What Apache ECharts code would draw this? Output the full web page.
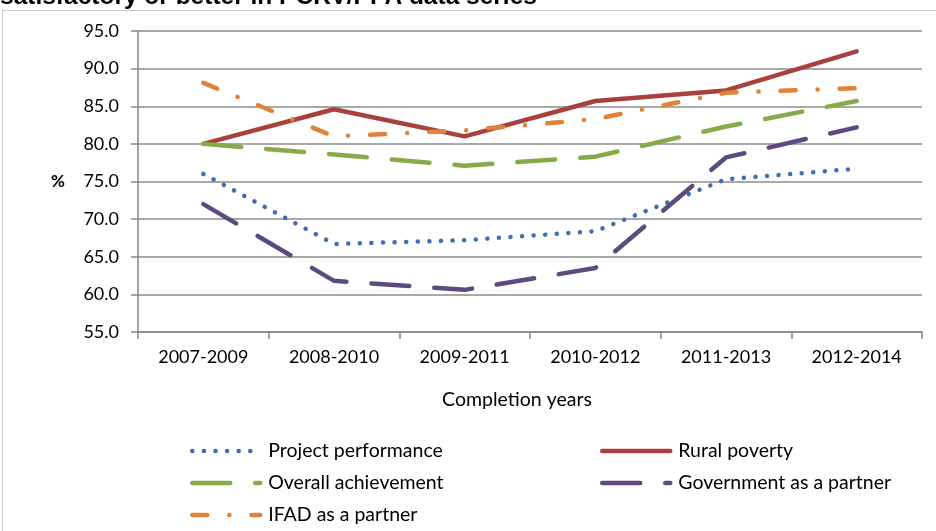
<!DOCTYPE html>
<html>
<head>
<meta charset="utf-8">
<script src="https://cdn.jsdelivr.net/npm/echarts@6/dist/echarts.min.js"></script>
<style>
  html, body { margin: 0; padding: 0; background: #fff; }
  #chart { width: 936px; height: 531px; }
</style>
</head>
<body>
<div id="chart"></div>
<script>
// values
var years = ['2007-2009', '2008-2010', '2009-2011', '2010-2012', '2011-2013', '2012-2014'];
var projectPerformance = [76.0, 66.7, 67.2, 68.4, 75.3, 76.7];
var ruralPoverty = [80.0, 84.6, 81.0, 85.7, 87.1, 92.3];
var overallAchievement = [80.0, 78.6, 77.1, 78.3, 82.3, 85.7];
var governmentPartner = [72.0, 61.8, 60.6, 63.5, 78.2, 82.2];
var ifadPartner = [88.1, 81.0, 81.8, 83.3, 86.8, 87.4];

var font = 'Lato, "Open Sans", sans-serif';

function lineSeries(name, data, color, dash) {
    return {
        name: name,
        type: 'line',
        data: data,
        symbol: 'none',
        animation: false,
        lineStyle: {
            color: color,
            width: 4.5,
            type: dash,
            cap: 'round',
            join: 'round'
        },
        itemStyle: { color: color }
    };
}

function legendColumn(left, names) {
    return {
        orient: 'vertical',
        left: left,
        top: 441,
        height: 90,
        padding: 0,
        itemWidth: 68,
        itemHeight: 14,
        itemGap: 12,
        itemStyle: { opacity: 0 },
        lineStyle: { width: 4.5, cap: 'round' },
        textStyle: { fontFamily: font, fontSize: 19.5, lineHeight: 20, color: '#000', padding: [0, 0, 0, 3] },
        data: names
    };
}

var chart = echarts.init(document.getElementById('chart'));
chart.setOption({
    animation: false,
    graphic: [
        {
            type: 'rect',
            shape: { x: 2.5, y: 10.5, width: 940, height: 540 },
            style: { fill: 'none', stroke: '#c8c8c8', lineWidth: 1 },
            silent: true
        },
        {
            type: 'text',
            x: 0,
            y: 10,
            style: {
                text: 'satisfactory or better in PCRV/PPA data series',
                font: 'bold 24.5px "Liberation Sans", Arial, sans-serif',
                fill: '#000',
                verticalAlign: 'bottom'
            }
        }
    ],
    grid: { left: 138, right: 14, top: 31, bottom: 199 },
    legend: [
        legendColumn(190, ['Project performance', 'Overall achievement', 'IFAD as a partner']),
        legendColumn(600, ['Rural poverty', 'Government as a partner'])
    ],
    xAxis: {
        type: 'category',
        data: years,
        boundaryGap: true,
        name: 'Completion years',
        nameLocation: 'middle',
        nameGap: 58,
        nameTextStyle: { fontFamily: font, fontSize: 19.5, color: '#000', padding: [0, 26, 0, 0] },
        axisLine: { lineStyle: { color: '#868686', width: 1.5 } },
        axisTick: { show: true, length: 7, lineStyle: { color: '#868686', width: 1.5 } },
        axisLabel: { fontFamily: font, fontSize: 18, color: '#000', margin: 16 },
        splitLine: { show: false }
    },
    yAxis: {
        type: 'value',
        min: 55,
        max: 95,
        interval: 5,
        name: '%',
        nameLocation: 'middle',
        nameRotate: 0,
        nameGap: 73,
        nameTextStyle: { fontFamily: font, fontSize: 17, fontWeight: 'bold', color: '#000', padding: [12, 0, 0, 0] },
        axisLine: { show: true, lineStyle: { color: '#868686', width: 1.5 } },
        axisTick: { show: true, length: 7, lineStyle: { color: '#868686', width: 1.5 } },
        axisLabel: {
            fontFamily: font, fontSize: 18, color: '#000', margin: 19,
            formatter: function (v) { return v.toFixed(1); }
        },
        splitLine: { show: true, lineStyle: { color: '#8c8c8c', width: 1.5 } }
    },
    series: [
        lineSeries('Project performance', projectPerformance, '#3f6fb0', [0.1, 11.5]),
        lineSeries('Rural poverty', ruralPoverty, '#a8403d', 'solid'),
        lineSeries('Overall achievement', overallAchievement, '#86ab4a', [38, 25]),
        lineSeries('Government as a partner', governmentPartner, '#5d4a80', [38, 25]),
        lineSeries('IFAD as a partner', ifadPartner, '#e0823a', [15, 22, 0.1, 22])
    ]
});
</script>
</body>
</html>
